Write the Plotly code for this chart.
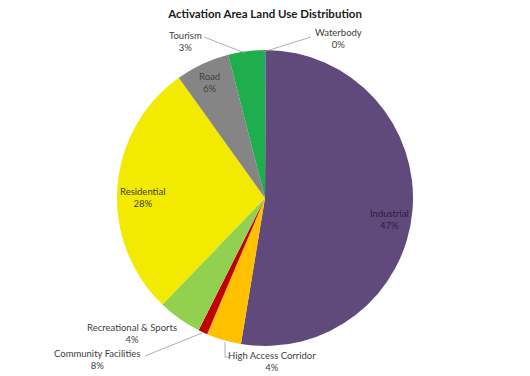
import plotly.graph_objects as go

# ---- data ----
categories = ["Waterbody", "Industrial", "High Access Corridor", "Community Facilities",
              "Recreational & Sports", "Residential", "Road", "Tourism"]
# slice shares as drawn in the picture (percent of the circle)
values = [0.1, 52.5, 3.8, 1.0, 4.8, 27.9, 5.9, 4.0]
# percentages printed on the labels
label_pct = ["0%", "47%", "4%", "8%", "4%", "28%", "6%", "3%"]
colors = ["#4F81BD", "#604A7B", "#FFC000", "#C00000", "#92D050", "#F2EA00", "#858585", "#1EAE4E"]

W, H = 530, 376
cx, cy, r = 265, 198, 148

def px(x):
    return x / W

def py(y):
    return 1 - y / H

fig = go.Figure(go.Pie(
    labels=categories,
    values=values,
    marker=dict(colors=colors, line=dict(width=0)),
    sort=False,
    direction="clockwise",
    rotation=0,
    textinfo="none",
    hoverinfo="label+percent",
    showlegend=False,
    domain=dict(x=[px(cx - r), px(cx + r)], y=[py(cy + r), py(cy - r)]),
))

# label placement (pixel centres) and text colour
label_pos = {
    "Waterbody": (338, 39, "#404040"),
    "Industrial": (389, 219, "#2B203B"),
    "High Access Corridor": (272, 361, "#404040"),
    "Community Facilities": (97, 359, "#404040"),
    "Recreational & Sports": (132, 333, "#404040"),
    "Residential": (142, 198, "#404040"),
    "Road": (209, 83, "#404040"),
    "Tourism": (185, 41, "#404040"),
}

annotations = []
for cat, pct in zip(categories, label_pct):
    x, y, col = label_pos[cat]
    annotations.append(dict(
        x=px(x), y=py(y), xref="paper", yref="paper",
        text=f"{cat}<br>{pct}", showarrow=False,
        font=dict(family="Lato, Open Sans, sans-serif", size=9.5, color=col),
        align="center", xanchor="center", yanchor="middle",
    ))

# leader lines (pixel coordinates of polyline vertices)
leaders = [
    [(204, 37), (245, 53)],              # Tourism
    [(311, 37), (263, 52)],              # Waterbody
    [(145, 356), (202, 333)],            # Community Facilities
    [(225, 342), (225, 357), (229, 357)],  # High Access Corridor
]
shapes = []
for pts in leaders:
    for (x0, y0), (x1, y1) in zip(pts[:-1], pts[1:]):
        shapes.append(dict(type="line", xref="paper", yref="paper",
                           x0=px(x0), y0=py(y0), x1=px(x1), y1=py(y1),
                           line=dict(color="#9A9A9A", width=0.8)))

fig.update_layout(
    width=W, height=H,
    margin=dict(l=0, r=0, t=0, b=0),
    paper_bgcolor="white",
    plot_bgcolor="white",
    title=dict(text="<b>Activation Area Land Use Distribution</b>",
               x=0.5, xanchor="center", y=py(14), yanchor="middle",
               font=dict(family="Lato, Open Sans, sans-serif", size=11.5, color="#1a1a1a")),
    annotations=annotations,
    shapes=shapes,
)

fig.write_html("out.html", config={"displayModeBar": False},
               post_script="document.body.style.margin='0';document.body.style.overflow='hidden';")
